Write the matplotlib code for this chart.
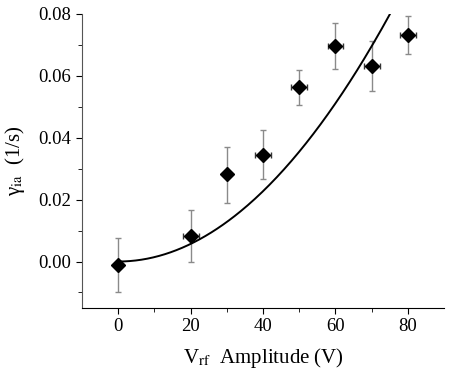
import matplotlib.pyplot as plt
import numpy as np

plt.rcParams['font.family'] = ['Liberation Serif', 'DejaVu Serif']
plt.rcParams['mathtext.fontset'] = 'stix'

# data
vrf = [0, 20, 30, 40, 50, 60, 70, 80]
gamma = [-0.001, 0.0084, 0.0282, 0.0345, 0.0563, 0.0697, 0.0632, 0.0732]
yerr_lo = [0.0088, 0.0084, 0.0092, 0.0078, 0.0058, 0.0074, 0.0080, 0.0060]
yerr_hi = [0.0086, 0.0084, 0.0088, 0.0080, 0.0055, 0.0074, 0.0082, 0.0060]
xerr = [0.0, 2.2, 0.0, 2.2, 2.2, 2.2, 2.2, 2.2]

# quadratic fit y = a*V^2
a_fit = 1.42e-5

fig = plt.figure(figsize=(4.5, 3.76), dpi=100)
ax = fig.add_axes([0.182, 0.181, 0.805, 0.782])

# vertical error bars (gray) and horizontal (black)
ax.errorbar(vrf, gamma, yerr=[yerr_lo, yerr_hi], fmt='none', ecolor='#8a8a8a',
            elinewidth=1.0, capsize=2.5, capthick=1.0, zorder=2)
ax.errorbar(vrf, gamma, xerr=xerr, fmt='none', ecolor='#333333',
            elinewidth=1.0, capsize=2.5, capthick=1.0, zorder=2)
ax.plot(vrf, gamma, 'D', color='black', markersize=7.2, zorder=4)

vv = np.linspace(0, 80, 200)
ax.plot(vv, a_fit * vv**2, color='black', lw=1.4, zorder=3)

ax.set_xlim(-10, 90)
ax.set_ylim(-0.015, 0.08)
ax.set_xticks([0, 20, 40, 60, 80])
ax.set_xticks([10, 30, 50, 70], minor=True)
ax.set_yticks([0.0, 0.02, 0.04, 0.06, 0.08])
ax.set_yticks([-0.01, 0.01, 0.03, 0.05, 0.07], minor=True)
ax.set_yticklabels(['0.00', '0.02', '0.04', '0.06', '0.08'])

ax.spines['top'].set_visible(False)
ax.spines['right'].set_visible(False)
ax.spines['left'].set_color('#555555')
ax.spines['bottom'].set_color('black')
ax.tick_params(which='major', direction='out', length=4, labelsize=13.5)
ax.tick_params(which='minor', direction='out', length=3)

ax.set_xlabel(r'V$_{\rm rf}$  Amplitude (V)', fontsize=15, labelpad=8)
ax.set_ylabel('γ$_{\\rm ia}$  (1/s)', fontsize=15, labelpad=8)

fig.savefig('out.png', dpi=100)
